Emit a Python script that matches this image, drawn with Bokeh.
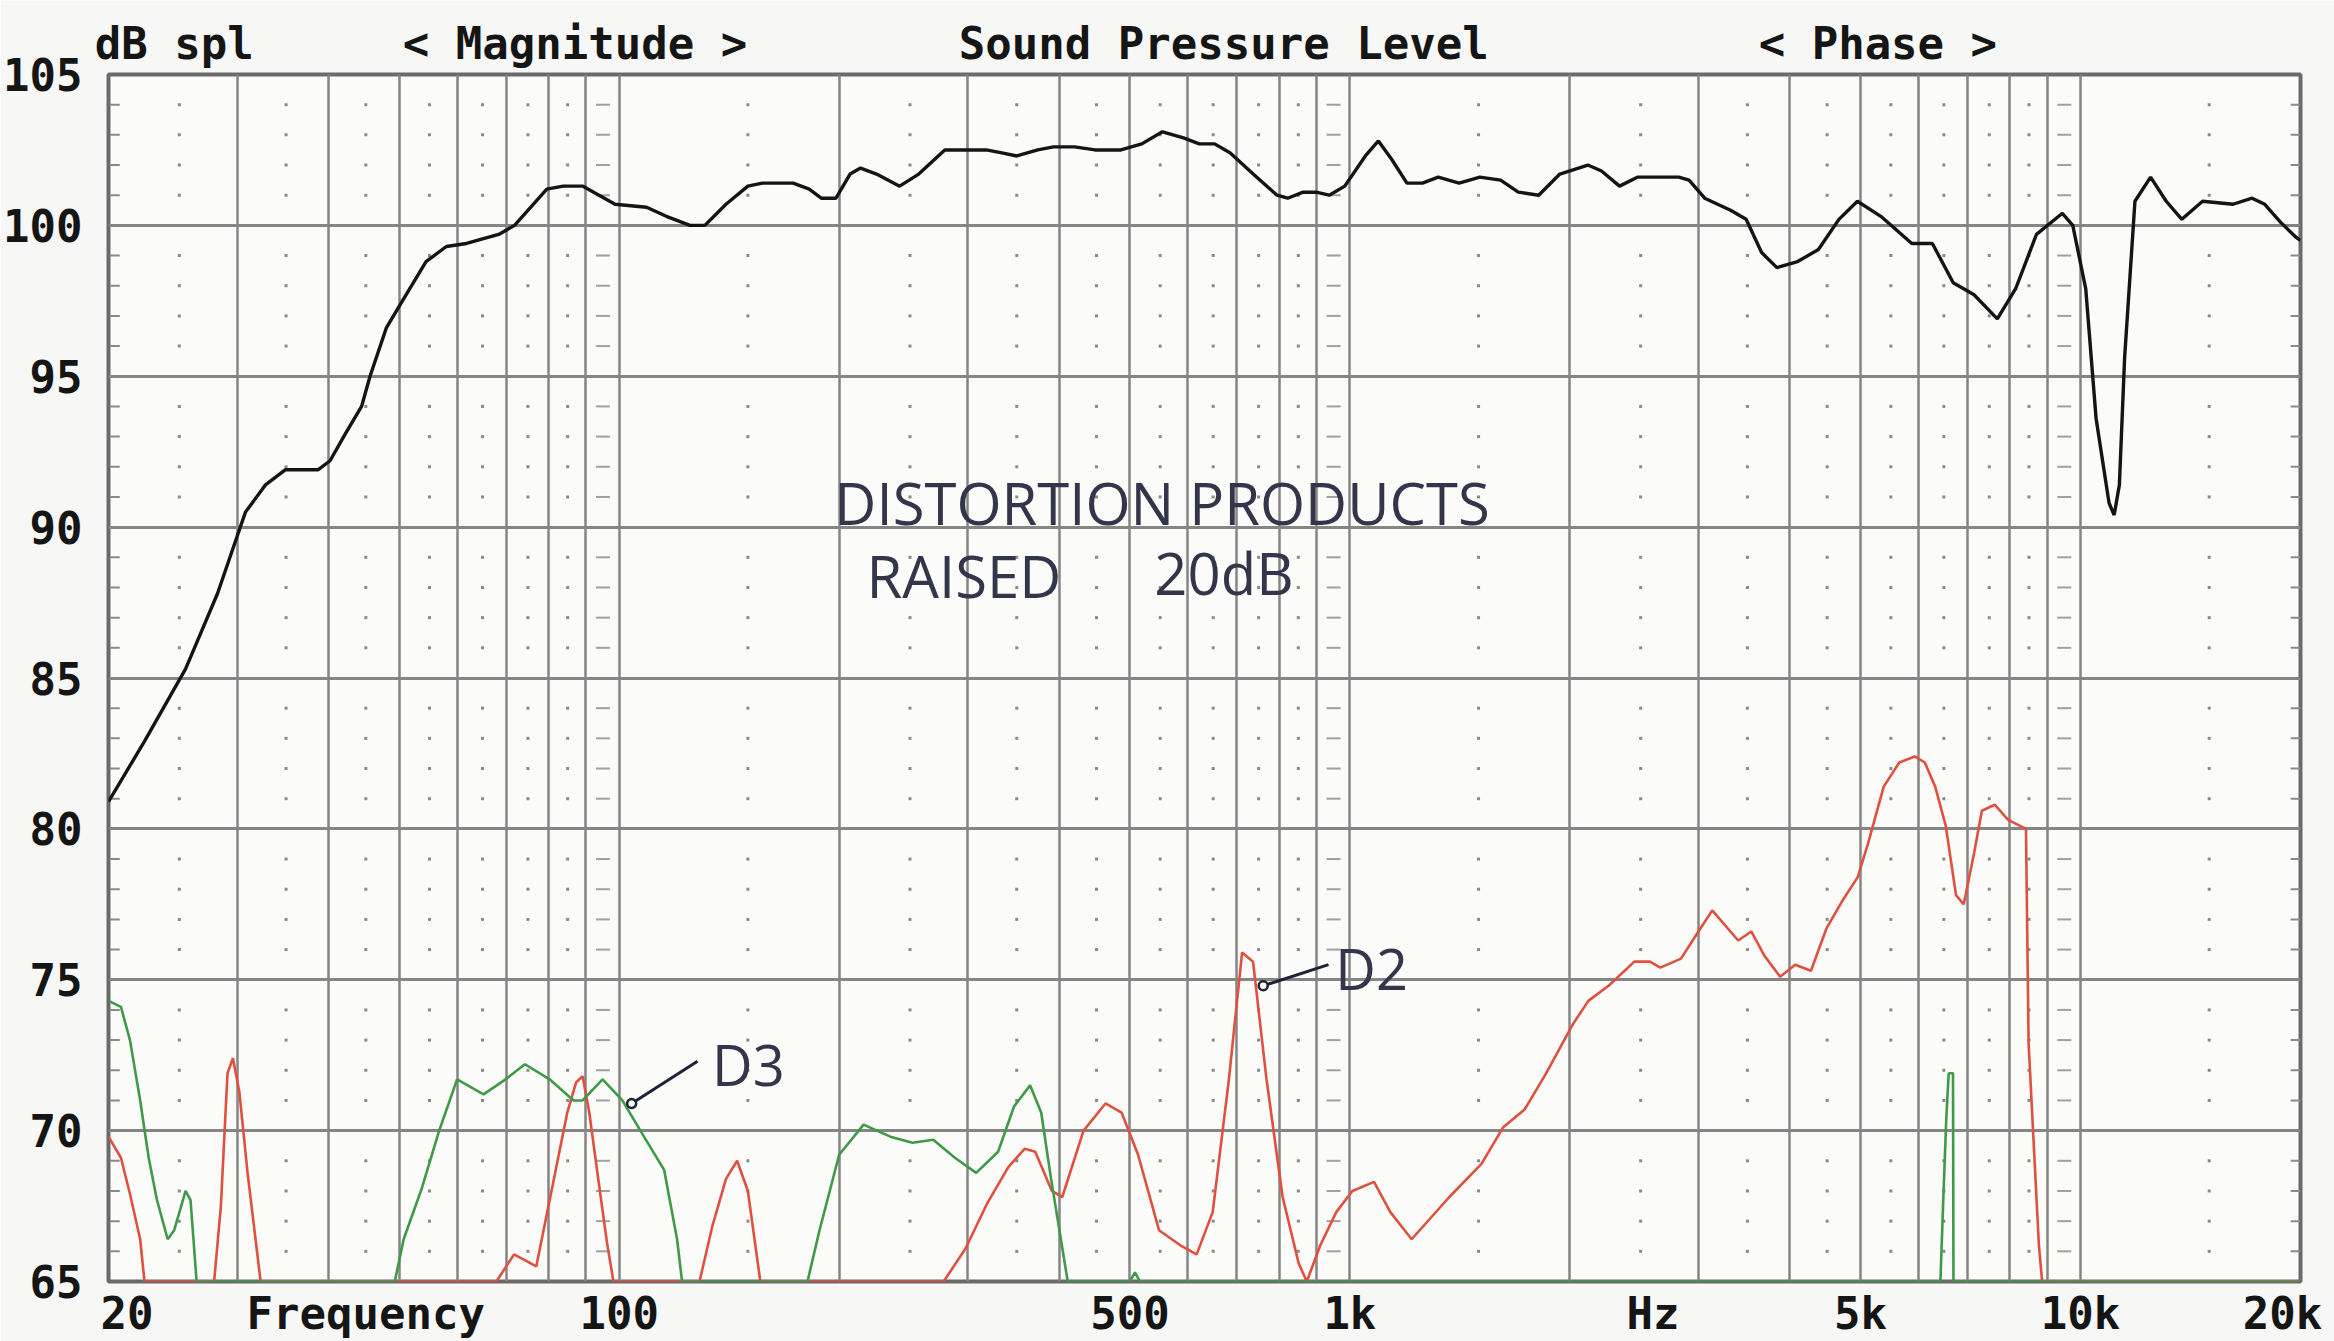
from bokeh.plotting import figure
from bokeh.models import Range1d, FixedTicker, Label, LogAxis
from bokeh.embed import file_html
from bokeh.resources import INLINE

# ---------------- data ----------------
spl_freq = [20, 22.4, 25.5, 28.2, 30, 30.8, 32.8, 34.9, 38.7, 40.2, 42.2, 44.4, 45.6, 48, 50.5,
            54.4, 58, 61.8, 68.4, 71.9, 79.6, 83.8, 89.2, 98.7, 109, 116, 125, 131, 140, 150,
            157, 173, 182, 189, 198, 207, 214, 225, 242, 257, 279, 318, 334, 350, 374, 393,
            420, 448, 486, 519, 554, 592, 622, 653, 686, 745, 795, 822, 863, 899, 937, 984,
            1050, 1094, 1140, 1197, 1257, 1321, 1411, 1506, 1608, 1700, 1813, 1938, 2117, 2210,
            2339, 2478, 2819, 2912, 3059, 3319, 3486, 3660, 3841, 4100, 4378, 4670, 4950, 5329,
            5876, 6269, 6695, 7148, 7693, 8150, 8703, 9444, 9758, 10165, 10502, 10940, 11117,
            11302, 11489, 11870, 12470, 13100, 13760, 14690, 16170, 17170, 17870, 18790, 19730,
            20000]
spl_db = [80.9, 82.9, 85.3, 87.8, 89.7, 90.5, 91.4, 91.9, 91.9, 92.2, 93.1, 94.0, 95.0, 96.6, 97.5,
          98.8, 99.3, 99.4, 99.7, 100.0, 101.2, 101.3, 101.3, 100.7, 100.6, 100.3, 100.0, 100.0, 100.7, 101.3,
          101.4, 101.4, 101.2, 100.9, 100.9, 101.7, 101.9, 101.7, 101.3, 101.7, 102.5, 102.5, 102.4, 102.3, 102.5, 102.6,
          102.6, 102.5, 102.5, 102.7, 103.1, 102.9, 102.7, 102.7, 102.4, 101.6, 101.0, 100.9, 101.1, 101.1, 101.0, 101.3,
          102.3, 102.8, 102.2, 101.4, 101.4, 101.6, 101.4, 101.6, 101.5, 101.1, 101.0, 101.7, 102.0, 101.8,
          101.3, 101.6, 101.6, 101.5, 100.9, 100.5, 100.2, 99.1, 98.6, 98.8, 99.2, 100.2, 100.8, 100.3,
          99.4, 99.4, 98.1, 97.7, 96.9, 97.9, 99.7, 100.4, 100.0, 97.9, 93.6, 90.8, 90.4,
          91.4, 95.6, 100.8, 101.6, 100.8, 100.2, 100.8, 100.7, 100.9, 100.7, 100.1, 99.6,
          99.5]

d3_freq = [20, 20.8, 21.4, 22.1, 22.7, 23.3, 24.1, 24.6, 25.5, 25.9, 26.4, 49.3, 50.7, 53.7, 56.7,
           60.0, 65.2, 69.9, 74.3, 80.3, 86.6, 89.1, 94.9, 101, 107.5, 115.2, 120, 121.9, 181,
           188, 200, 216, 235, 252, 269, 288, 308, 330, 347, 365, 378, 390, 411, 500, 508, 516,
           6430, 6490, 6550, 6600, 6690, 6700, 20000]
d3_db = [74.3, 74.1, 73.0, 71.0, 69.1, 67.7, 66.4, 66.7, 68.0, 67.7, 65.0, 65.0, 66.4, 68.1, 70.0,
         71.7, 71.2, 71.7, 72.2, 71.7, 71.0, 71.0, 71.7, 71.0, 69.9, 68.7, 66.4, 65.0, 65.0,
         66.7, 69.2, 70.2, 69.8, 69.6, 69.7, 69.1, 68.6, 69.3, 70.8, 71.5, 70.6, 68.4, 65.0, 65.0, 65.3, 65.0,
         65.0, 67.8, 70.4, 71.9, 71.9, 65.0, 65.0]

d2_freq = [20, 20.8, 21.4, 22.1, 22.4, 27.9, 28.5, 29.1, 29.6, 30.2, 31.0, 32.3, 67.9, 71.8, 77.0,
           81.4, 84.9, 87.3, 89.1, 91.0, 93.6, 96.2, 98.2, 128.8, 134, 140, 145, 150, 156, 278,
           298, 319, 341, 359, 371, 391, 404, 432, 463, 487, 513, 548, 586, 617, 649, 683, 712,
           737, 769, 809, 851, 873, 911, 958, 1008, 1079, 1136, 1215, 1368, 1514, 1620, 1734,
           1856, 2016, 2120, 2260, 2451, 2575, 2660, 2839, 2981, 3133, 3400, 3543, 3692, 3880,
           4069, 4276, 4490, 4716, 4955, 5117, 5378, 5648, 5932, 6122, 6325, 6539, 6755, 6920,
           7151, 7327, 7630, 7960, 8420, 8490, 8770, 8860, 20000]
d2_db = [69.8, 69.1, 67.9, 66.4, 65.0, 65.0, 67.5, 71.9, 72.4, 71.3, 68.6, 65.0, 65.0, 65.9, 65.5,
         68.4, 70.6, 71.6, 71.8, 70.6, 68.4, 66.3, 65.0, 65.0, 66.8, 68.4, 69.0, 68.0, 65.0, 65.0,
         66.1, 67.6, 68.8, 69.4, 69.3, 68.0, 67.8, 70.0, 70.9, 70.6, 69.2, 66.7, 66.2, 65.9, 67.3, 71.7, 75.9,
         75.6, 71.7, 67.8, 65.6, 65.0, 66.2, 67.3, 68.0, 68.3, 67.3, 66.4, 67.8, 68.9, 70.1, 70.7,
         71.9, 73.5, 74.3, 74.8, 75.6, 75.6, 75.4, 75.7, 76.5, 77.3, 76.3, 76.6, 75.8, 75.1,
         75.5, 75.3, 76.7, 77.6, 78.4, 79.5, 81.4, 82.2, 82.4, 82.2, 81.4, 80.1, 77.8, 77.5,
         79.2, 80.6, 80.8, 80.3, 80.0, 72.9, 66.2, 65.0, 65.0]

y_ticks = [65, 70, 75, 80, 85, 90, 95, 100, 105]
y_labels = ["65", "70", "75", "80", "85", "90", "95", "100", "105"]
x_ticks = [21.2, 45, 100, 500, 1000, 2600, 5000, 10000, 18900]
x_labels = ["20", "Frequency", "100", "500", "1k", "Hz", "5k", "10k", "20k"]

header_texts = ["dB spl", "< Magnitude >", "Sound Pressure Level", "< Phase >"]
header_freq = [24.6, 87, 672, 5280]

note_texts = ["DISTORTION PRODUCTS", "RAISED", "20dB"]
note_freq = [197, 218, 540]
note_db = [90.8, 88.4, 88.5]

tag_texts = ["D3", "D2"]
tag_freq = [134, 955]
tag_db = [72.2, 75.4]
tag_point_freq = [104, 761]
tag_point_db = [70.9, 74.8]
tag_end_freq = [128, 935]
tag_end_db = [72.3, 75.5]

# ---------------- figure ----------------
p = figure(width=2334, height=1341, x_axis_type="log",
           x_range=Range1d(20, 20000), y_range=Range1d(65, 105),
           output_backend="svg", toolbar_location=None,
           min_border_left=97, min_border_right=34, min_border_top=74, min_border_bottom=52)
p.background_fill_color = "#fbfbfa"
p.border_fill_color = "#f7f7f6"
p.outline_line_color = "#6a6a6a"
p.outline_line_width = 4

grid_x = [30, 40, 50, 60, 70, 80, 90, 100, 200, 300, 400, 500, 600, 700, 800, 900,
          1000, 2000, 3000, 4000, 5000, 6000, 7000, 8000, 9000, 10000]
p.xgrid.ticker = FixedTicker(ticks=grid_x)
p.xgrid.grid_line_color = "#858585"
p.xgrid.grid_line_width = 2.5
p.ygrid.ticker = FixedTicker(ticks=[70, 75, 80, 85, 90, 95, 100])
p.ygrid.grid_line_color = "#858585"
p.ygrid.grid_line_width = 3

bottom_axis = p.below[0]
left_axis = p.left[0]
top_axis = LogAxis(ticker=FixedTicker(ticks=header_freq),
                   major_label_overrides={v: s for v, s in zip(header_freq, header_texts)})
p.add_layout(top_axis, "above")

for ax in (bottom_axis, left_axis, top_axis):
    ax.axis_line_color = None
    ax.major_tick_line_color = None
    ax.minor_tick_line_color = None
    ax.major_label_text_font = "DejaVu Sans Mono"
    ax.major_label_text_font_style = "bold"
    ax.major_label_text_font_size = "44px"
    ax.major_label_text_color = "#151515"

bottom_axis.ticker = FixedTicker(ticks=x_ticks)
bottom_axis.major_label_overrides = {v: s for v, s in zip(x_ticks, x_labels)}
bottom_axis.major_label_standoff = 0
top_axis.major_label_standoff = 0
left_axis.ticker = FixedTicker(ticks=y_ticks)
left_axis.major_label_overrides = {v: s for v, s in zip(y_ticks, y_labels)}
left_axis.major_label_standoff = 20

# dotted minor grid (decoration)
mids = [25, 35, 45, 55, 65, 75, 85, 150, 250, 350, 450, 550, 650, 750, 850,
        1500, 2500, 3500, 4500, 5500, 6500, 7500, 8500, 15000]
dash_mids = [95, 950, 9500]
levels = [d for d in range(66, 105) if d % 5 != 0]
p.scatter([m for m in mids for _ in levels], [d for _ in mids for d in levels],
          marker="square", size=3, color="#8a8a8a", line_color=None)
p.scatter([m for m in dash_mids for _ in levels], [d for _ in dash_mids for d in levels],
          marker="dash", size=14, line_color="#a0a0a0", line_width=2)
p.scatter([20.4] * len(levels), levels, marker="dash", size=10, line_color="#8a8a8a", line_width=2)
p.scatter([19700] * len(levels), levels, marker="dash", size=10, line_color="#8a8a8a", line_width=2)

# curves
p.line(d2_freq, d2_db, color="#e0503f", line_width=2.6)
p.line(d3_freq, d3_db, color="#3f9a45", line_width=2.6)
p.line(spl_freq, spl_db, color="#141414", line_width=3.4)

# handwritten pointer marks
for i in range(2):
    p.line([tag_point_freq[i], tag_end_freq[i]], [tag_point_db[i], tag_end_db[i]],
           color="#1d2236", line_width=3)
p.scatter(tag_point_freq, tag_point_db, size=9, fill_color="#fbfbfa", line_color="#1d2236", line_width=2.5)

# handwritten notes
for t, f, d in zip(note_texts, note_freq, note_db):
    p.add_layout(Label(x=f, y=d, text=t, text_align="left", text_baseline="middle",
                       text_font="Open Sans", text_font_size="58px", text_color="#33354a"))
for t, f, d in zip(tag_texts, tag_freq, tag_db):
    p.add_layout(Label(x=f, y=d, text=t, text_align="left", text_baseline="middle",
                       text_font="Open Sans", text_font_size="56px", text_color="#33354a"))

open("out.html", "w").write(file_html(p, INLINE))
